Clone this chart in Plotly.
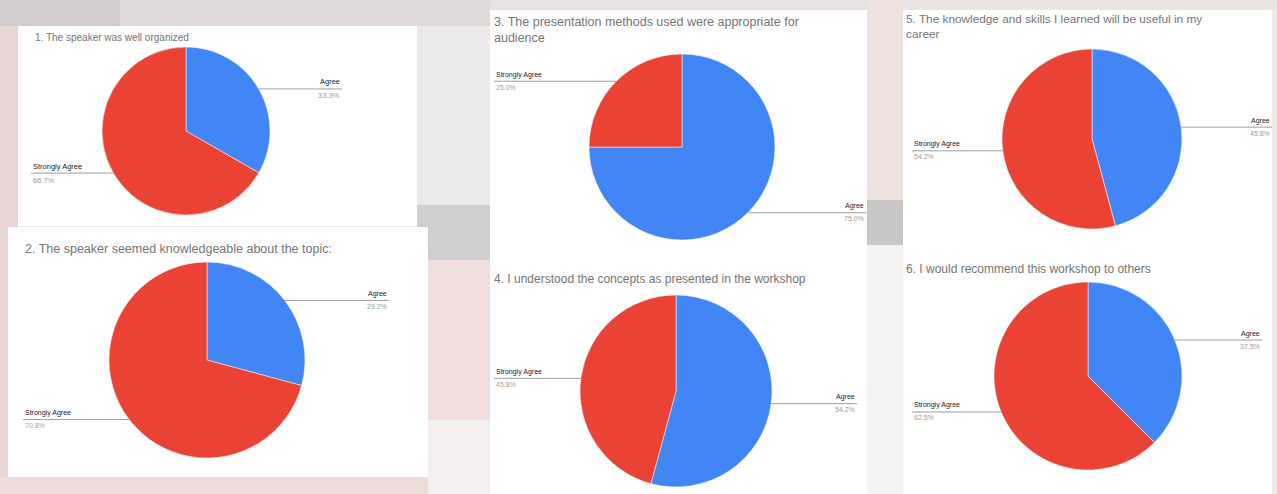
"""
Workshop feedback survey - six pie charts on white cards
"""
import math
import plotly.graph_objects as go

W, H = 1277, 494

# --- data ---
titles = [
    "1. The speaker was well organized",
    "2. The speaker seemed knowledgeable about the topic:",
    "3. The presentation methods used were appropriate for<br>audience",
    "4. I understood the concepts as presented in the workshop",
    "5. The knowledge and skills I learned will be useful in my<br>career",
    "6. I would recommend this workshop to others",
]
labels = ["Agree", "Strongly Agree"]
agree = [33.3, 29.2, 75.0, 54.2, 45.8, 37.5]
strongly_agree = [66.7, 70.8, 25.0, 45.8, 54.2, 62.5]

colors = ["#4285f4", "#ea4335"]

# card layout in pixels: card box, title pos/size, pie centre/radius, label x limits
cards = [
    dict(box=(18, 26, 417, 226), title=(33, 30, 10), pie=(186, 131, 84), lx=(31, 342), fs=7.5),
    dict(box=(8, 227, 428, 477), title=(23, 240, 12.5), pie=(207, 360, 98), lx=(23, 389), fs=7),
    dict(box=(490, 10, 867, 260), title=(492, 13, 12.5), pie=(682, 147, 93), lx=(494, 866), fs=7),
    dict(box=(490, 260, 867, 494), title=(492, 270, 12), pie=(676, 391, 96), lx=(494, 857), fs=7),
    dict(box=(903, 10, 1272, 252), title=(904, 10, 11.8), pie=(1092, 139, 90), lx=(912, 1272), fs=7),
    dict(box=(903, 252, 1272, 494), title=(904, 260, 12), pie=(1088, 376, 94), lx=(912, 1262), fs=7),
]


def px(x):
    return x / W


def py(y):
    return 1 - y / H


fig = go.Figure()
shapes = []
annotations = []

# soft blurred-photo style background blocks
bg_blocks = [
    ((0, 0, 490, 26), "#dedada"),
    ((0, 0, 120, 26), "#d3cccc"),
    ((0, 26, 18, 494), "#e8d6d2"),
    ((0, 477, 490, 494), "#eddcd8"),
    ((417, 26, 490, 205), "#ebe9e9"),
    ((417, 205, 490, 260), "#cfcdcd"),
    ((428, 260, 490, 420), "#efdedb"),
    ((428, 420, 490, 494), "#f3efee"),
    ((867, 0, 903, 200), "#eee2df"),
    ((867, 200, 903, 245), "#c9c6c6"),
    ((867, 245, 903, 494), "#f4f2f2"),
    ((903, 0, 1277, 10), "#ece4e2"),
    ((490, 0, 867, 10), "#e6e2e2"),
    ((1272, 10, 1277, 494), "#efe9e8"),
]
for (x0, y0, x1, y1), c in bg_blocks:
    shapes.append(dict(type="rect", xref="paper", yref="paper",
                       x0=px(x0), x1=px(x1), y0=py(y1), y1=py(y0),
                       fillcolor=c, line=dict(width=0), layer="below"))

for i, card in enumerate(cards):
    x0, y0, x1, y1 = card["box"]
    shapes.append(dict(type="rect", xref="paper", yref="paper",
                       x0=px(x0), x1=px(x1), y0=py(y1), y1=py(y0),
                       fillcolor="white", line=dict(width=0), layer="below"))

    tx, ty, tfs = card["title"]
    annotations.append(dict(text=titles[i], xref="paper", yref="paper",
                            x=px(tx), y=py(ty), xanchor="left", yanchor="top",
                            align="left", showarrow=False,
                            font=dict(family="Arial, Liberation Sans", size=tfs, color="#757575")))

    cx, cy, r = card["pie"]
    vals = [agree[i], strongly_agree[i]]
    fig.add_trace(go.Pie(
        labels=labels,
        values=vals,
        sort=False,
        direction="clockwise",
        rotation=0,
        marker=dict(colors=colors, line=dict(color="white", width=0.5)),
        textinfo="none",
        hoverinfo="label+percent",
        showlegend=False,
        domain=dict(x=[px(cx - r), px(cx + r)], y=[py(cy + r), py(cy - r)]),
    ))

    # leader lines + labels at each slice's mid angle
    total = sum(vals)
    start = 0.0
    lx_left, lx_right = card["lx"]
    for lab, v in zip(labels, vals):
        mid = (start + v / 2) / total * 2 * math.pi
        start += v
        ex = cx + r * math.sin(mid)
        ey = cy - r * math.cos(mid)
        right = ex >= cx
        xend = lx_right if right else lx_left
        shapes.append(dict(type="line", xref="paper", yref="paper",
                           x0=px(ex), x1=px(xend), y0=py(ey), y1=py(ey),
                           line=dict(color="#9e9e9e", width=1)))
        anchor = "right" if right else "left"
        annotations.append(dict(text=lab, xref="paper", yref="paper",
                                x=px(xend), y=py(ey - 0.5), xanchor=anchor, yanchor="bottom",
                                showarrow=False,
                                font=dict(family="Arial, Liberation Sans", size=card["fs"], color="#222222")))
        annotations.append(dict(text=f"{v:.1f}%", xref="paper", yref="paper",
                                x=px(xend), y=py(ey + 0.5), xanchor=anchor, yanchor="top",
                                showarrow=False,
                                font=dict(family="Arial, Liberation Sans", size=card["fs"], color="#9e9e9e")))

fig.update_layout(
    width=W,
    height=H,
    margin=dict(l=0, r=0, t=0, b=0),
    paper_bgcolor="#ebe6e6",
    plot_bgcolor="#ebe6e6",
    shapes=shapes,
    annotations=annotations,
)

# drop the browser's default body margin so the figure sits at 0,0
fig.write_html("out.html", config={"displayModeBar": False},
               post_script="document.body.style.margin='0';")
